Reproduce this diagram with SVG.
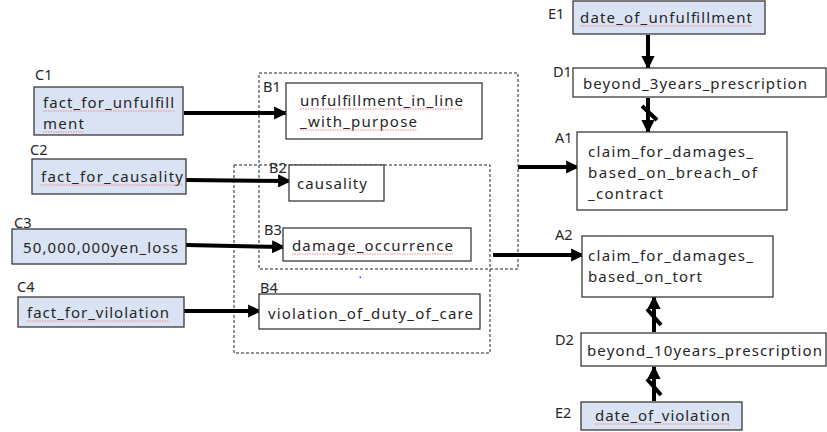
<svg xmlns="http://www.w3.org/2000/svg" width="827" height="432" viewBox="0 0 827 432">
  <style>
    .box { fill: #ffffff; stroke: #3a3a3a; stroke-width: 1.3; }
    .fact { fill: #dae3f3; stroke: #3a3a3a; stroke-width: 1.3; }
    .txt { font-family: "Noto Sans", "Noto Sans CJK JP", sans-serif; font-size: 15px; fill: #262626; }
    .lbl { font-family: "Noto Sans", "Noto Sans CJK JP", sans-serif; font-size: 14.5px; fill: #262626; }
    .grp { fill: none; stroke: #222; stroke-width: 1; stroke-dasharray: 3 2; }
    .wire { stroke: #000; stroke-width: 4; fill: none; }
    .cut { stroke: #000; stroke-width: 4; fill: none; }
    .sq { stroke: #f08a8a; stroke-width: 1; stroke-dasharray: 1.5 1; fill: none; }
  </style>
  <defs>
    <marker id="head" viewBox="0 0 10 10" refX="9" refY="5" markerWidth="3.3" markerHeight="3.3" orient="auto" markerUnits="strokeWidth">
      <path d="M0,0 L10,5 L0,10 z" fill="#000"/>
    </marker>
  </defs>

  <rect width="827" height="432" fill="#ffffff"/>

  <!-- dashed groupings -->
  <g id="groups">
    <rect class="grp" x="259" y="73" width="259" height="196"/>
    <rect class="grp" x="234" y="165" width="256" height="188"/>
  </g>

  <!-- connectors -->
  <g id="connectors">
    <line class="wire" x1="184" y1="113" x2="286" y2="113" marker-end="url(#head)"/>
    <line class="wire" x1="186" y1="180" x2="290" y2="181" marker-end="url(#head)"/>
    <line class="wire" x1="186" y1="245" x2="284" y2="247" marker-end="url(#head)"/>
    <line class="wire" x1="184" y1="311" x2="260" y2="311" marker-end="url(#head)"/>
    <line class="wire" x1="518" y1="167" x2="578" y2="167" marker-end="url(#head)"/>
    <line class="wire" x1="493" y1="255" x2="583" y2="255" marker-end="url(#head)"/>
    <line class="wire" x1="648" y1="35" x2="648" y2="68" marker-end="url(#head)"/>
    <line class="wire" x1="648" y1="98" x2="648" y2="132" marker-end="url(#head)"/>
    <line class="cut" x1="642" y1="106" x2="657" y2="120"/>
    <line class="wire" x1="654" y1="332" x2="654" y2="297" marker-end="url(#head)"/>
    <line class="cut" x1="647" y1="309" x2="661" y2="325"/>
    <line class="wire" x1="654" y1="401" x2="654" y2="367" marker-end="url(#head)"/>
    <line class="cut" x1="647" y1="379" x2="661" y2="395"/>
  </g>

  <g id="C1">
    <text class="lbl" x="35" y="80">C1</text>
    <rect class="fact" x="34" y="87" width="149" height="48"/>
    <text class="txt" x="43" y="108" textLength="131">fact_for_unfulfill</text>
    <text class="txt" x="43" y="129" textLength="41">ment</text>
    <path class="sq" d="M43,111 H175 M43,132 H84"/>
  </g>
  <g id="C2">
    <text class="lbl" x="30" y="155">C2</text>
    <rect class="fact" x="32" y="159" width="154" height="35"/>
    <text class="txt" x="41" y="182" textLength="142">fact_for_causality</text>
    <path class="sq" d="M41,185 H183"/>
  </g>
  <g id="C3">
    <text class="lbl" x="14" y="228">C3</text>
    <rect class="fact" x="12" y="229" width="174" height="35"/>
    <text class="txt" x="23" y="253" textLength="155">50,000,000yen_loss</text>
  </g>
  <g id="C4">
    <text class="lbl" x="17" y="292">C4</text>
    <rect class="fact" x="18" y="297" width="166" height="30"/>
    <text class="txt" x="27" y="318" textLength="142">fact_for_vilolation</text>
    <path class="sq" d="M27,321 H169"/>
  </g>

  <g id="B1">
    <text class="lbl" x="263" y="92">B1</text>
    <rect class="box" x="286" y="83" width="196" height="56"/>
    <text class="txt" x="300" y="106" textLength="163">unfulfillment_in_line</text>
    <text class="txt" x="300" y="127" textLength="117">_with_purpose</text>
    <path class="sq" d="M300,109 H463 M300,130 H417"/>
  </g>
  <g id="B2">
    <text class="lbl" x="269" y="173">B2</text>
    <rect class="box" x="289" y="165" width="95" height="36"/>
    <text class="txt" x="297" y="189" textLength="70">causality</text>
  </g>
  <g id="B3">
    <text class="lbl" x="264" y="235">B3</text>
    <rect class="box" x="283" y="228" width="188" height="33"/>
    <text class="txt" x="292" y="251" textLength="161">damage_occurrence</text>
    <path class="sq" d="M292,254 H453"/>
  </g>
  <g id="B4">
    <text class="lbl" x="260" y="293">B4</text>
    <rect class="box" x="259" y="294" width="221" height="35"/>
    <text class="txt" x="268" y="319" textLength="205">violation_of_duty_of_care</text>
  </g>
  <rect x="359.5" y="276.5" width="1.5" height="1.5" fill="#2040ff"/>

  <g id="E1">
    <text class="lbl" x="548" y="19">E1</text>
    <rect class="fact" x="573" y="1" width="192" height="33"/>
    <text class="txt" x="580" y="23" textLength="172">date_of_unfulfillment</text>
    <path class="sq" d="M580,26 H752"/>
  </g>
  <g id="D1">
    <text class="lbl" x="553" y="77">D1</text>
    <rect class="box" x="573" y="68" width="253" height="29"/>
    <text class="txt" x="583" y="89" textLength="224">beyond_3years_prescription</text>
  </g>
  <g id="A1">
    <text class="lbl" x="555" y="143">A1</text>
    <rect class="box" x="577" y="132" width="210" height="78"/>
    <text class="txt" x="588" y="157" textLength="165">claim_for_damages_</text>
    <text class="txt" x="588" y="178" textLength="169">based_on_breach_of</text>
    <text class="txt" x="588" y="199" textLength="75">_contract</text>
  </g>
  <g id="A2">
    <text class="lbl" x="555" y="240">A2</text>
    <rect class="box" x="582" y="236" width="191" height="61"/>
    <text class="txt" x="588" y="261" textLength="165">claim_for_damages_</text>
    <text class="txt" x="588" y="282" textLength="114">based_on_tort</text>
  </g>
  <g id="D2">
    <text class="lbl" x="555" y="345">D2</text>
    <rect class="box" x="581" y="333" width="245" height="33"/>
    <text class="txt" x="587" y="356" textLength="235">beyond_10years_prescription</text>
  </g>
  <g id="E2">
    <text class="lbl" x="555" y="418">E2</text>
    <rect class="fact" x="581" y="402" width="161" height="28"/>
    <text class="txt" x="595" y="421" textLength="135">date_of_violation</text>
    <path class="sq" d="M595,424 H730"/>
  </g>
</svg>
